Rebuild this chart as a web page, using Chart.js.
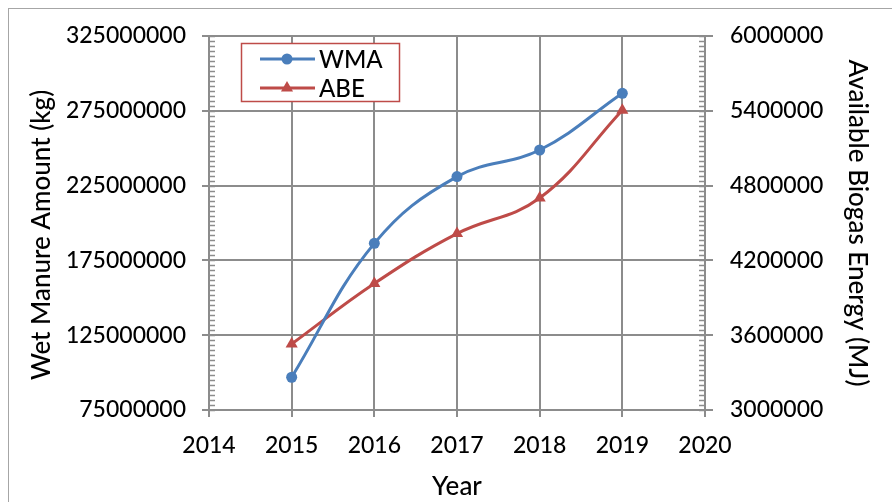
<!DOCTYPE html>
<html>
<head>
<meta charset="utf-8">
<script src="https://cdn.jsdelivr.net/npm/chart.js@4/dist/chart.umd.min.js"></script>
<style>
  html, body { margin: 0; padding: 0; background: #fff; overflow: hidden; }
  #wrap { position: relative; width: 892px; height: 502px; }
  #frame { position: absolute; left: 8px; top: 8px; width: 1000px; height: 1000px; border: 1px solid #a6a6a6; box-sizing: border-box; }
  #c { position: absolute; left: 0; top: 0; }
</style>
</head>
<body>
<div id="wrap">
  <div id="frame"></div>
  <canvas id="c" width="892" height="502"></canvas>
</div>
<script>
// ---- data ----
const years = [2015, 2016, 2017, 2018, 2019];
const wmaValues = [96900000, 186400000, 231000000, 248800000, 286700000];
const abeValues = [3530000, 4015000, 4415000, 4700000, 5405000];
const seriesNames = ['WMA', 'ABE'];
const xTitle = 'Year';
const yLeftTitle = 'Wet Manure Amount (kg)';
const yRightTitle = 'Available Biogas Energy (MJ)';

const BLUE = '#4a7ebb';
const RED = '#be4b48';
const GRID = '#8c8c8c';
const FONT = 'Lato, "Open Sans", sans-serif';
const TICK_SIZE = 23;
const TITLE_SIZE = 26;
const WEIGHT = 500;

const minorTicks = {
  id: 'minorTicks',
  afterDraw(chart) {
    const ctx = chart.ctx;
    const area = chart.chartArea;
    ctx.save();
    ctx.strokeStyle = GRID;
    ctx.lineWidth = 1.5;
    const draw = (scale, step, side) => {
      for (let v = scale.min; v <= scale.max + 1; v += step) {
        const y = Math.round(scale.getPixelForValue(v)) + 0.5;
        const x0 = side === 'left' ? area.left : area.right;
        const x1 = side === 'left' ? area.left + 6 : area.right - 6;
        ctx.beginPath(); ctx.moveTo(x0, y); ctx.lineTo(x1, y); ctx.stroke();
      }
    };
    draw(chart.scales.y, 50000000 / 15, 'left');
    draw(chart.scales.y1, 600000 / 15, 'right');
    ctx.restore();
  }
};

// left axis title, drawn slightly below the axis centre as in the original
const leftTitle = {
  id: 'leftTitle',
  afterDraw(chart) {
    const ctx = chart.ctx;
    ctx.save();
    ctx.translate(42, 235);
    ctx.rotate(-Math.PI / 2);
    ctx.font = WEIGHT + ' ' + TITLE_SIZE + 'px ' + FONT;
    ctx.fillStyle = '#000';
    ctx.textAlign = 'center';
    ctx.textBaseline = 'middle';
    ctx.fillText(yLeftTitle, 0, 0);
    ctx.restore();
  }
};

const boxLegend = {
  id: 'boxLegend',
  afterDraw(chart) {
    const ctx = chart.ctx;
    ctx.save();
    const bx = 241, by = 43, bw = 158, bh = 58;
    ctx.fillStyle = '#fff';
    ctx.fillRect(bx, by, bw, bh);
    ctx.strokeStyle = RED;
    ctx.lineWidth = 1.5;
    ctx.strokeRect(bx + 0.5, by + 0.5, bw, bh);
    const items = [
      { y: 59, color: BLUE, style: 'circle', label: seriesNames[0] },
      { y: 88, color: RED, style: 'triangle', label: seriesNames[1] }
    ];
    items.forEach(it => {
      ctx.strokeStyle = it.color;
      ctx.lineWidth = 3;
      ctx.beginPath(); ctx.moveTo(260, it.y); ctx.lineTo(315, it.y); ctx.stroke();
      ctx.fillStyle = it.color;
      Chart.helpers.drawPoint(ctx, { pointStyle: it.style, radius: it.style === 'circle' ? 5.5 : 7, borderWidth: 0 }, 287, it.y);
      ctx.fillStyle = '#000';
      ctx.font = WEIGHT + ' 24px ' + FONT;
      ctx.textBaseline = 'middle';
      ctx.textAlign = 'left';
      ctx.fillText(it.label, 319, it.y + 1);
    });
    ctx.restore();
  }
};

const tickFont = { family: FONT, size: TICK_SIZE, weight: WEIGHT };
const titleFont = { family: FONT, size: TITLE_SIZE, weight: WEIGHT };

new Chart(document.getElementById('c'), {
  type: 'line',
  data: {
    datasets: [
      {
        label: seriesNames[0],
        data: years.map((y, i) => ({ x: y, y: wmaValues[i] })),
        yAxisID: 'y',
        borderColor: BLUE,
        backgroundColor: BLUE,
        borderWidth: 3,
        pointStyle: 'circle',
        pointRadius: 5.5,
        pointBorderWidth: 0,
        tension: 0.4
      },
      {
        label: seriesNames[1],
        data: years.map((y, i) => ({ x: y, y: abeValues[i] })),
        yAxisID: 'y1',
        borderColor: RED,
        backgroundColor: RED,
        borderWidth: 3,
        pointStyle: 'triangle',
        pointRadius: 7,
        pointBorderWidth: 0,
        tension: 0.4
      }
    ]
  },
  options: {
    responsive: false,
    animation: false,
    devicePixelRatio: 1,
    layout: { padding: { top: 36, left: 0, right: 0, bottom: 0 } },
    plugins: { legend: { display: false }, tooltip: { enabled: false } },
    scales: {
      x: {
        type: 'linear',
        min: 2014, max: 2020,
        ticks: { stepSize: 1, color: '#000', font: tickFont, padding: 15, callback: v => String(v), maxRotation: 0 },
        grid: { color: GRID, lineWidth: 2, tickLength: 7 },
        border: { color: GRID, width: 2 },
        title: { display: true, text: xTitle, color: '#000', font: titleFont, padding: { top: 2, bottom: 0 } },
        afterFit: s => { s.height = 92; }
      },
      y: {
        position: 'left',
        min: 75000000, max: 325000000,
        ticks: { stepSize: 50000000, color: '#000', font: tickFont, padding: 16, callback: v => String(v) },
        grid: { color: GRID, lineWidth: 2, tickLength: 7 },
        border: { color: GRID, width: 2 },
        title: { display: false },
        afterFit: s => { s.width = 209; }
      },
      y1: {
        position: 'right',
        min: 3000000, max: 6000000,
        ticks: { stepSize: 600000, color: '#000', font: tickFont, padding: 17, callback: v => String(v) },
        grid: { drawOnChartArea: false, color: GRID, lineWidth: 2, tickLength: 8 },
        border: { color: GRID, width: 2 },
        title: { display: true, text: yRightTitle, color: '#000', font: titleFont, padding: { top: 19, bottom: 0 } },
        afterFit: s => { s.width = 187; }
      }
    }
  },
  plugins: [minorTicks, leftTitle, boxLegend]
});
</script>
</body>
</html>
